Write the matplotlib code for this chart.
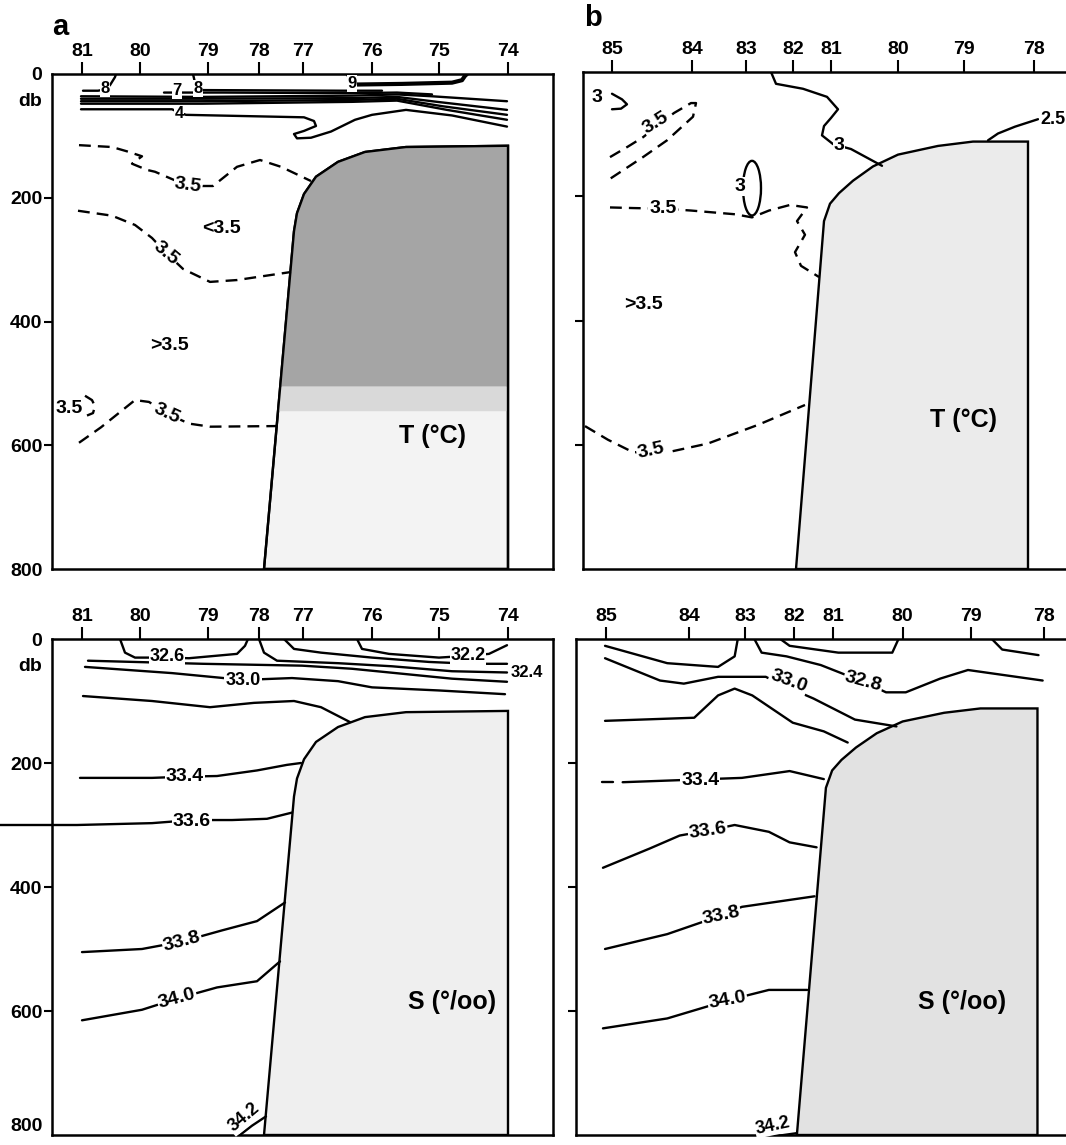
import matplotlib
matplotlib.use("Agg")
import numpy as np
import matplotlib.pyplot as plt
from matplotlib.patches import Polygon, Ellipse

plt.rcParams['font.family'] = ['Liberation Sans', 'DejaVu Sans']
plt.rcParams['font.weight'] = 'bold'

# ---------------- data ----------------
lon_a = ['81', '80', '79', '78', '77', '76', '75', '74']
pos_a = [30, 88, 156, 207, 251, 320, 387, 456]          # distance along section a
lon_b = ['85', '84', '83', '82', '81', '80', '79', '78']
pos_b = [29, 109, 163, 210, 248, 315, 381, 451]         # distance along section b
depth_ticks = [0, 200, 400, 600, 800]

# seamount outlines (distance, db)
sm_a_x = [212, 242, 245, 252, 264, 286, 313, 354, 456, 456]
sm_a_z = [800, 254, 225, 194, 166, 142, 126, 118, 116, 800]
sm_b_x = [213, 241, 247, 256, 270, 290, 315, 355, 390, 445, 445]
sm_b_z = [800, 240, 212, 195, 175, 152, 133, 119, 112, 112, 800]
dark_a_depth = 505

# ---- panel a, temperature ----
ta_8a_x = [31, 46, 53, 58, 63, 64];   ta_8a_z = [27, 27, 25, 18, 5, 0]
ta_7_x = [112, 125, 171, 300, 345, 380]; ta_7_z = [30, 30, 30, 31, 30, 33]
ta_8b_x = [141, 143, 146, 151, 290, 330]; ta_8b_z = [0, 14, 22, 26, 27, 27]
ta_9_x = [296, 298, 300, 305, 350, 400, 410, 413, 415]; ta_9_z = [0, 8, 15, 17, 16, 14, 10, 3, 0]
ta_b1_x = [29, 150, 300, 345, 380, 455]; ta_b1_z = [36, 37, 35, 33, 36, 44]
ta_b2_x = [29, 150, 300, 345, 385, 455]; ta_b2_z = [40, 40, 39, 37, 45, 58]
ta_b3_x = [29, 150, 300, 345, 390, 455]; ta_b3_z = [44, 44, 42, 40, 52, 66]
ta_b4_x = [29, 150, 300, 345, 395, 455]; ta_b4_z = [48, 48, 45, 43, 58, 74]
ta_4_x = [29, 120, 127, 134, 252, 262, 264, 252, 242, 245, 259, 279, 303, 320, 354, 400, 455]
ta_4_z = [57, 57, 62, 66, 70, 76, 84, 92, 97, 104, 103, 93, 74, 66, 58, 67, 85]
ta_d1_x = [27, 60, 75, 90, 80, 95, 103, 136, 161, 185, 208, 229, 259]
ta_d1_z = [115, 118, 125, 133, 145, 155, 158, 181, 181, 150, 139, 150, 173]
ta_d2_x = [26, 60, 83, 100, 114, 131, 158, 185, 239]
ta_d2_z = [221, 229, 244, 265, 289, 315, 336, 333, 320]
ta_d3_x = [27, 49, 66, 83, 97, 115, 137, 158, 225]
ta_d3_z = [596, 571, 549, 527, 530, 549, 565, 570, 569]
ta_d4_x = [33, 40, 43, 41, 35]; ta_d4_z = [520, 527, 537, 548, 552]

# ---- panel b, temperature ----
tb_3_x = [188, 193, 220, 244, 255, 248, 241, 239, 250, 268, 299]
tb_3_z = [0, 19, 27, 40, 60, 74, 87, 102, 116, 124, 151]
tb_25_x = [405, 415, 432, 455]; tb_25_z = [110, 99, 88, 76]
tb_s3_x = [29, 39, 44, 38, 29]; tb_s3_z = [35, 44, 52, 59, 60]
tb_d1_x = [27, 45, 60, 91, 108, 113, 110, 84, 60, 26]
tb_d1_z = [137, 120, 105, 66, 50, 50, 72, 110, 137, 173]
tb_d2_x = [27, 50, 80, 108, 152, 169, 186, 207, 224, 214, 222, 212, 218, 236]
tb_d2_z = [218, 219, 220, 223, 229, 234, 223, 214, 218, 240, 262, 290, 312, 330]
tb_d3_x = [2, 25, 50, 85, 125, 175, 222]
tb_d3_z = [570, 592, 612, 612, 598, 568, 536]
tb_ell = (169, 187, 18, 88)

# ---- panel a, salinity ----
sa_326_x = [68, 73, 83, 115, 137, 185, 193, 196]; sa_326_z = [0, 22, 30, 30, 31, 24, 11, 0]
sa_324_x = [207, 212, 225, 286, 340, 400, 455]; sa_324_z = [0, 22, 35, 39, 44, 52, 54]
sa_l2_x = [232, 242, 269, 320, 377, 420, 455]; sa_l2_z = [0, 16, 22, 30, 37, 40, 40]
sa_322_x = [305, 310, 337, 387, 416, 437, 455]; sa_322_z = [0, 16, 24, 30, 27, 24, 10]
sa_l3_x = [36, 151, 250, 300, 350, 400, 455]; sa_l3_z = [35, 40, 43, 48, 56, 64, 69]
sa_330_x = [33, 120, 191, 240, 286, 320, 387, 453]; sa_330_z = [45, 55, 66, 63, 68, 78, 83, 89]
sa_l4_x = [31, 100, 158, 202, 242, 269, 298]; sa_l4_z = [92, 100, 110, 103, 100, 110, 134]
sa_334_x = [28, 100, 133, 165, 205, 235, 249]; sa_334_z = [224, 224, 222, 221, 212, 203, 200]
sa_336_x = [-52, 25, 100, 140, 180, 215, 240]; sa_336_z = [300, 300, 297, 292, 292, 290, 280]
sa_338_x = [30, 90, 130, 170, 205, 233]; sa_338_z = [505, 500, 488, 470, 455, 425]
sa_340_x = [30, 90, 125, 165, 205, 228]; sa_340_z = [615, 598, 580, 562, 552, 520]
sa_342_x = [188, 200, 214]; sa_342_z = [800, 785, 770]

# ---- panel b, salinity ----
sb_a_x = [28, 88, 137, 153, 156]; sb_a_z = [11, 39, 45, 28, 0]
sb_328_x = [172, 179, 203, 236, 277, 299, 318, 351, 378, 450]
sb_328_z = [0, 22, 28, 42, 69, 86, 86, 64, 50, 67]
sb_c_x = [197, 206, 253, 305, 311]; sb_c_z = [0, 11, 22, 22, 0]
sb_d_x = [401, 411, 446]; sb_d_z = [0, 17, 26]
sb_330_x = [28, 81, 104, 137, 183, 200, 229, 269, 309]
sb_330_z = [31, 67, 72, 61, 61, 75, 96, 130, 141]
sb_f_x = [28, 114, 137, 153, 170, 209, 239, 262]
sb_f_z = [132, 127, 91, 80, 91, 135, 149, 167]
sb_334a_x = [25, 36]; sb_334a_z = [231, 231]
sb_334_x = [45, 160, 206, 239]; sb_334_z = [231, 224, 213, 226]
sb_336_x = [26, 71, 100, 127, 153, 186, 206, 232]; sb_336_z = [369, 338, 317, 309, 300, 311, 328, 336]
sb_338_x = [28, 88, 140, 160, 230]; sb_338_z = [500, 476, 446, 432, 415]
sb_340_x = [26, 88, 146, 167, 186, 223]; sb_340_z = [628, 612, 583, 574, 566, 566]
sb_342_x = [179, 213]; sb_342_z = [805, 797]

# ---------------- figure ----------------
W, H = 1066, 1145
fig = plt.figure(figsize=(W / 100, H / 100), dpi=100)


def add_ax(left, top, right, bottom):
    return fig.add_axes([left / W, 1 - bottom / H, (right - left) / W, (bottom - top) / H])


LW = 1.7
DASH = (0, (5, 3))
LAB = dict(fontsize=14, fontweight='bold', ha='center', va='center', zorder=6)
BOX = dict(boxstyle='square,pad=0.05', fc='white', ec='none')


def setup(ax, xmax, pos, labs, left_labels):
    ax.set_xlim(0, xmax)
    ax.set_ylim(800, 0)
    ax.xaxis.tick_top()
    ax.set_xticks(pos)
    ax.set_xticklabels(labs, fontsize=14, fontweight='bold')
    ax.tick_params(axis='x', direction='out', length=9, width=1.5, pad=1)
    ax.set_yticks(depth_ticks)
    if left_labels:
        ax.set_yticklabels([str(d) for d in depth_ticks], fontsize=14, fontweight='bold')
        ax.text(-22, 44, 'db', fontsize=14, fontweight='bold', ha='center', va='center')
    else:
        ax.set_yticklabels([])
    ax.tick_params(axis='y', direction='out', length=6, width=1.5, pad=1)
    for i in (0, -1):
        ax.yaxis.get_major_ticks()[i].tick1line.set_visible(False)
    for s in ax.spines.values():
        s.set_linewidth(1.8)


def seamount(ax, xs, zs, color, dark=None):
    ax.add_patch(Polygon(np.column_stack([xs, zs]), closed=True, fc=color, ec='black', lw=LW, zorder=3))
    if dark is not None:
        zz = np.array(zs[1:-1])
        xx = np.array(xs[1:-1])
        xl = np.interp(dark, [zs[1], zs[0]], [xs[1], xs[0]])
        pts = [(xl, dark)] + list(zip(xx, zz)) + [(xs[-1], dark)]
        ax.add_patch(Polygon(pts, closed=True, fc='#a5a5a5', ec='none', zorder=3.5))
        pts2 = [(np.interp(dark + 40, [zs[1], zs[0]], [xs[1], xs[0]]), dark + 40), (xl, dark),
                (xs[-1], dark), (xs[-1], dark + 40)]
        ax.add_patch(Polygon(pts2, closed=True, fc='#d9d9d9', ec='none', zorder=3.4))
        ax.add_patch(Polygon(np.column_stack([xs, zs]), closed=True, fc='none', ec='black', lw=LW, zorder=4))


def ln(ax, x, z, dashed=False, lw=LW, clip=True):
    ax.plot(x, z, color='black', lw=lw, ls=DASH if dashed else '-', zorder=5,
            solid_capstyle='round', clip_on=clip)


def lab(ax, s, x, z, rot=0, size=14, box=True, ha='center'):
    kw = dict(LAB)
    kw['fontsize'] = size
    kw['ha'] = ha
    if box:
        kw['bbox'] = BOX
    ax.text(x, z, s, rotation=rot, **kw)


# ---- top a ----
ax = add_ax(52, 74, 553, 569)
setup(ax, 501, pos_a, lon_a, True)
seamount(ax, sm_a_x, sm_a_z, '#f3f3f3', dark=dark_a_depth)
for xs, zs in [(ta_8a_x, ta_8a_z), (ta_7_x, ta_7_z), (ta_8b_x, ta_8b_z), (ta_b1_x, ta_b1_z),
               (ta_b2_x, ta_b2_z), (ta_b3_x, ta_b3_z), (ta_b4_x, ta_b4_z), (ta_4_x, ta_4_z)]:
    ln(ax, xs, zs)
ln(ax, ta_9_x, ta_9_z, lw=3)
lab(ax, '8', 53, 24, size=12)
lab(ax, '7', 125, 27, size=12)
lab(ax, '8', 146, 23, size=12)
lab(ax, '9', 300, 15, size=12)
lab(ax, '4', 127, 64, size=12)
for xs, zs in [(ta_d1_x, ta_d1_z), (ta_d2_x, ta_d2_z), (ta_d3_x, ta_d3_z), (ta_d4_x, ta_d4_z)]:
    ln(ax, xs, zs, dashed=True)
lab(ax, '3.5', 136, 180, rot=-8)
lab(ax, '3.5', 114, 289, rot=-40)
lab(ax, '3.5', 115, 549, rot=-25)
lab(ax, '3.5', 17, 541, box=False)
lab(ax, '<3.5', 169, 249, box=False)
lab(ax, '>3.5', 117, 439, box=False)
lab(ax, 'T (°C)', 381, 585, size=18, box=False)
fig.text(60 / W, 1 - 27 / H, 'a', fontsize=21, fontweight='bold', ha='center', va='center')

# ---- top b ----
ax = add_ax(583, 72, 1066, 569)
setup(ax, 483, pos_b, lon_b, False)
ax.spines['right'].set_visible(False)
seamount(ax, sm_b_x, sm_b_z, '#ebebeb')
ln(ax, tb_3_x, tb_3_z)
ln(ax, tb_25_x, tb_25_z)
ln(ax, tb_s3_x, tb_s3_z)
ax.add_patch(Ellipse((tb_ell[0], tb_ell[1]), tb_ell[2], tb_ell[3], fc='none', ec='black', lw=LW, zorder=5))
for xs, zs in [(tb_d1_x, tb_d1_z), (tb_d2_x, tb_d2_z), (tb_d3_x, tb_d3_z)]:
    ln(ax, xs, zs, dashed=True)
lab(ax, '3', 256, 118)
lab(ax, '2.5', 457, 76, ha='left', size=13)
lab(ax, '3', 14, 41, box=False)
lab(ax, '3', 157, 184)
lab(ax, '3.5', 73, 82, rot=32)
lab(ax, '3.5', 80, 220)
lab(ax, '3.5', 68, 610, rot=12)
lab(ax, '>3.5', 60, 375, box=False)
lab(ax, 'T (°C)', 380, 560, size=18, box=False)
fig.text(593 / W, 1 - 18 / H, 'b', fontsize=21, fontweight='bold', ha='center', va='center')

# ---- bottom a ----
ax = add_ax(52, 639, 553, 1135)
setup(ax, 501, pos_a, lon_a, True)
ax.get_yticklabels()[-1].set_va('bottom')
seamount(ax, sm_a_x, sm_a_z, '#efefef')
for xs, zs in [(sa_326_x, sa_326_z), (sa_324_x, sa_324_z), (sa_l2_x, sa_l2_z), (sa_322_x, sa_322_z),
               (sa_l3_x, sa_l3_z), (sa_330_x, sa_330_z), (sa_l4_x, sa_l4_z), (sa_334_x, sa_334_z),
               (sa_338_x, sa_338_z), (sa_340_x, sa_340_z), (sa_342_x, sa_342_z)]:
    ln(ax, xs, zs)
ln(ax, sa_336_x, sa_336_z, clip=False)
lab(ax, '32.6', 115, 29, size=13)
lab(ax, '32.2', 416, 27, size=13)
lab(ax, '32.4', 459, 54, size=12, ha='left')
lab(ax, '33.0', 191, 67, size=13)
lab(ax, '33.4', 133, 222)
lab(ax, '33.6', 140, 294)
lab(ax, '33.8', 130, 488, rot=15)
lab(ax, '34.0', 125, 580, rot=15)
lab(ax, '34.2', 192, 772, rot=40, size=13)
lab(ax, 'S (°/oo)', 400, 585, size=18, box=False)

# ---- bottom b ----
ax = add_ax(576, 639, 576 + 483 * 1.037, 1135)
setup(ax, 483, pos_b, lon_b, False)
ax.spines['right'].set_visible(False)
seamount(ax, sm_b_x, sm_b_z, '#e2e2e2')
for xs, zs in [(sb_a_x, sb_a_z), (sb_328_x, sb_328_z), (sb_c_x, sb_c_z), (sb_d_x, sb_d_z),
               (sb_330_x, sb_330_z), (sb_f_x, sb_f_z), (sb_334a_x, sb_334a_z), (sb_334_x, sb_334_z),
               (sb_336_x, sb_336_z), (sb_338_x, sb_338_z), (sb_340_x, sb_340_z), (sb_342_x, sb_342_z)]:
    ln(ax, xs, zs)
lab(ax, '33.0', 205, 68, rot=-20)
lab(ax, '32.8', 277, 69, rot=-15)
lab(ax, '33.4', 120, 229)
lab(ax, '33.6', 127, 309, rot=8)
lab(ax, '33.8', 140, 446, rot=12)
lab(ax, '34.0', 146, 583, rot=10)
lab(ax, '34.2', 190, 785, rot=12, size=13)
lab(ax, 'S (°/oo)', 372, 585, size=18, box=False)

fig.savefig('out.png', dpi=100)
